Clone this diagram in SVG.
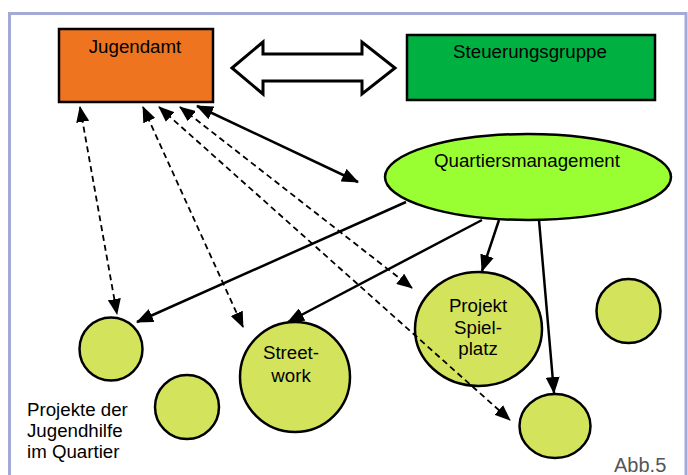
<svg xmlns="http://www.w3.org/2000/svg" width="688" height="475" viewBox="0 0 688 475">
  <style>
    text { font-family: "Liberation Sans", Arial, sans-serif; font-size: 18.7px; fill: #000; }
    .box { stroke: #000; stroke-width: 2.5; }
    .node { stroke: #000; stroke-width: 2.5; }
    .solid { stroke: #000; stroke-width: 2.5; fill: none; }
    .dash { stroke: #000; stroke-width: 1.8; fill: none; stroke-dasharray: 6 4; }
  </style>
  <defs>
    <marker id="ah" markerUnits="userSpaceOnUse" markerWidth="17" markerHeight="14" refX="16" refY="7" orient="auto-start-reverse" viewBox="0 0 17 14">
      <path d="M0,0 L17,7 L0,14 z" fill="#000"/>
    </marker>
    <marker id="ahd" markerUnits="userSpaceOnUse" markerWidth="16" markerHeight="13" refX="15" refY="6.5" orient="auto-start-reverse" viewBox="0 0 16 13">
      <path d="M0,0 L16,6.5 L0,13 z" fill="#000"/>
    </marker>
  </defs>
  <rect x="0" y="0" width="688" height="475" fill="#fff"/>
  <rect x="9.5" y="13.5" width="676.5" height="470" fill="#fff" stroke="#a3aad8" stroke-width="3"/>

  <g id="jugendamt">
    <rect class="box" x="59" y="29" width="154" height="73" fill="#ee7420"/>
    <text x="135" y="53" text-anchor="middle">Jugendamt</text>
  </g>
  <g id="steuerungsgruppe">
    <rect class="box" x="407" y="35" width="248" height="65" fill="#00b040"/>
    <text x="530" y="58" text-anchor="middle">Steuerungsgruppe</text>
  </g>
  <g id="quartiersmanagement">
    <ellipse class="node" cx="528" cy="177" rx="143" ry="43" fill="#99ff33"/>
    <text x="527" y="167" text-anchor="middle">Quartiersmanagement</text>
  </g>
  <g id="projekt-a">
    <circle class="node" cx="111" cy="349" r="31.5" fill="#d4e35c"/>
  </g>
  <g id="projekt-b">
    <circle class="node" cx="187" cy="407" r="32" fill="#d4e35c"/>
  </g>
  <g id="streetwork">
    <circle class="node" cx="295" cy="377" r="55" fill="#d4e35c"/>
    <text x="291" y="359" text-anchor="middle">Street-</text>
    <text x="291" y="382" text-anchor="middle">work</text>
  </g>
  <g id="spielplatz">
    <ellipse class="node" cx="478.5" cy="329" rx="63.5" ry="57" fill="#d4e35c"/>
    <text x="478" y="312" text-anchor="middle">Projekt</text>
    <text x="478" y="334" text-anchor="middle">Spiel-</text>
    <text x="478" y="355" text-anchor="middle">platz</text>
  </g>
  <g id="projekt-c">
    <circle class="node" cx="628.5" cy="311" r="32" fill="#d4e35c"/>
  </g>
  <g id="projekt-d">
    <ellipse class="node" cx="555" cy="426" rx="35.5" ry="32" fill="#d4e35c"/>
  </g>

  <g id="connectors">
    <line class="solid" x1="197" y1="106" x2="358" y2="182" marker-start="url(#ah)" marker-end="url(#ah)"/>
    <line class="solid" x1="406" y1="202" x2="137" y2="322" marker-end="url(#ah)"/>
    <line class="solid" x1="482" y1="220" x2="288" y2="322" marker-end="url(#ah)"/>
    <line class="solid" x1="499" y1="220" x2="482" y2="271" marker-end="url(#ah)"/>
    <line class="solid" x1="539" y1="220" x2="554" y2="393" marker-end="url(#ah)"/>
    <line class="dash" x1="80" y1="107" x2="117" y2="314" marker-start="url(#ahd)" marker-end="url(#ahd)"/>
    <line class="dash" x1="143" y1="107" x2="243" y2="327" marker-start="url(#ahd)" marker-end="url(#ahd)"/>
    <line class="dash" x1="159" y1="107" x2="510" y2="420" marker-start="url(#ahd)" marker-end="url(#ahd)"/>
    <line class="dash" x1="180" y1="107" x2="412" y2="288" marker-start="url(#ahd)" marker-end="url(#ahd)"/>
    <polygon points="232,68 263,42 263,54 362,54 362,42 395,68 362,94 362,81 263,81 263,94" fill="#fff" stroke="#000" stroke-width="3" stroke-linejoin="miter"/>
  </g>

  <g id="legende">
    <text x="27" y="416">Projekte der</text>
    <text x="27" y="437">Jugendhilfe</text>
    <text x="27" y="458">im Quartier</text>
  </g>
  <text x="614" y="472" style="font-size:20px; fill:#555">Abb.5</text>
</svg>
